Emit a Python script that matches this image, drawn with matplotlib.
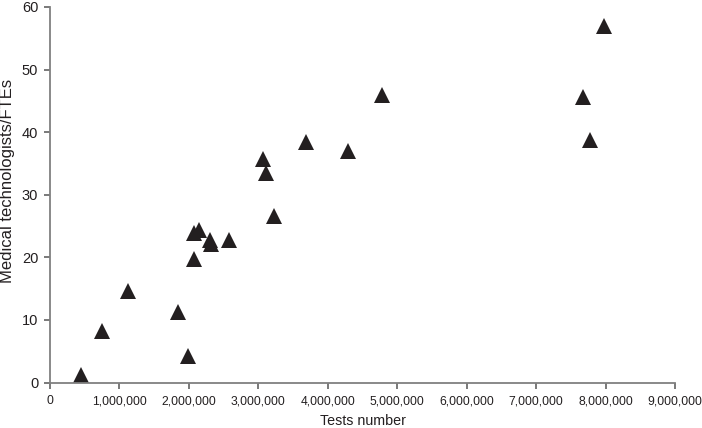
import matplotlib
matplotlib.use("Agg")
import matplotlib.pyplot as plt
from matplotlib.ticker import FuncFormatter, MultipleLocator

plt.rcParams['font.family'] = ['Liberation Sans', 'DejaVu Sans']

tests_number = [450000, 745000, 1120000, 1850000, 1980000, 2080000, 2080000,
                2140000, 2310000, 2320000, 2580000, 3070000, 3110000, 3220000,
                3680000, 4290000, 4780000, 7680000, 7780000, 7980000]
med_tech_ftes = [1.2, 8.3, 14.6, 11.2, 4.2, 19.7, 23.9,
                 24.4, 22.7, 22.1, 22.7, 35.7, 33.4, 26.6,
                 38.5, 37.0, 46.0, 45.6, 38.8, 57.0]
x_label = "Tests number"
y_label = "Medical technologists/FTEs"

W, H = 702, 428
fig = plt.figure(figsize=(W / 100, H / 100), dpi=100)
ax = fig.add_axes([50 / W, (H - 382.5) / H, 625 / W, 375.5 / H])

ax.plot(tests_number, med_tech_ftes, linestyle='none', marker='^',
        markersize=11, color='#231f20', markeredgewidth=0, clip_on=False)

ax.set_xlim(0, 9000000)
ax.set_ylim(0, 60)
ax.xaxis.set_major_locator(MultipleLocator(1000000))
ax.yaxis.set_major_locator(MultipleLocator(10))
ax.xaxis.set_major_formatter(FuncFormatter(lambda v, p: f"{int(v):,}"))

for s in ['top', 'right']:
    ax.spines[s].set_visible(False)
for s in ['left', 'bottom']:
    ax.spines[s].set_color('#808080')
    ax.spines[s].set_linewidth(1.3)

ax.tick_params(axis='both', direction='out', length=4, width=1.1,
               color='#555555', labelcolor='#231f20')
ax.tick_params(axis='x', pad=5, labelsize=8.7)
ax.tick_params(axis='y', pad=4.5, labelsize=10.5)

fig.text(363 / W, 1 - 421 / H, x_label, ha='center', va='center',
         fontsize=10.3, color='#231f20')
fig.text(7.5 / W, 1 - 181 / H, y_label, ha='center', va='center',
         rotation=90, fontsize=12, color='#231f20')

fig.savefig("out.png", dpi=100)
